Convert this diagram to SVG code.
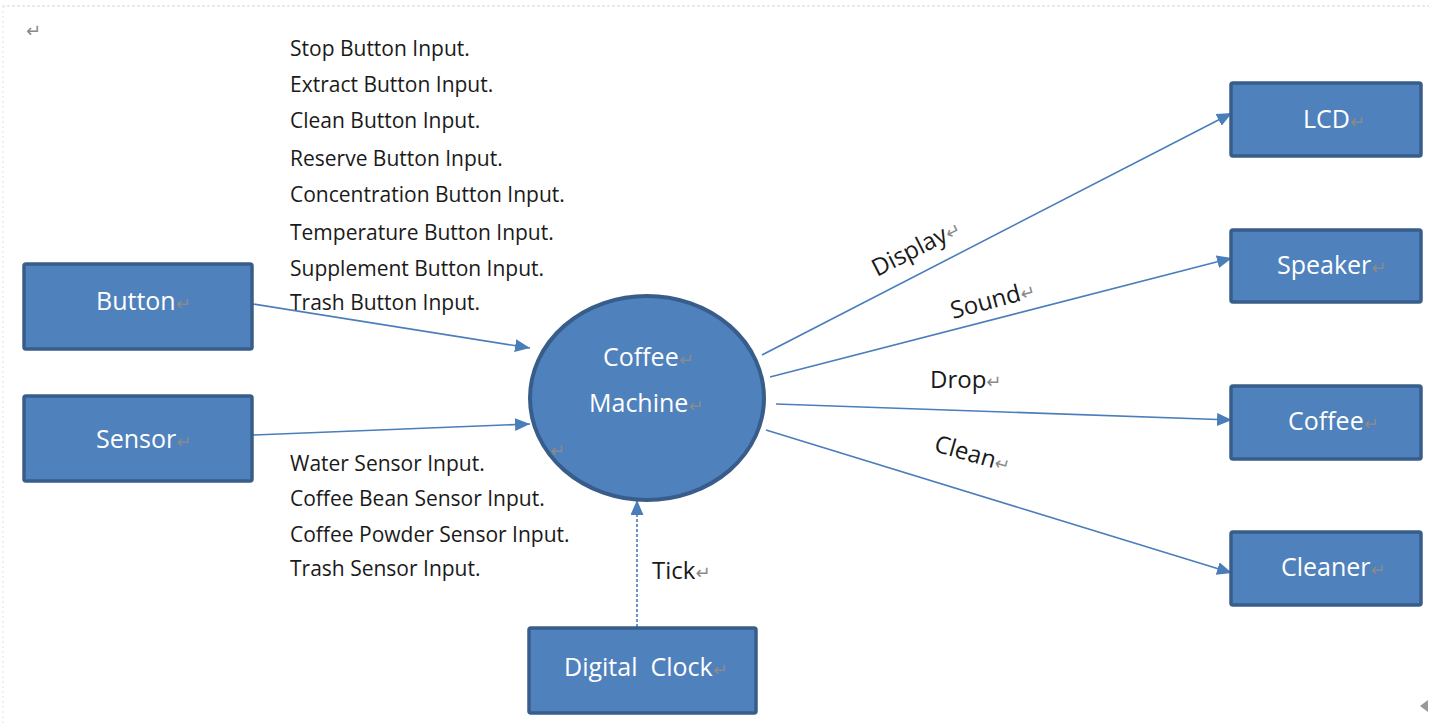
<svg xmlns="http://www.w3.org/2000/svg" width="1429" height="726" viewBox="0 0 1429 726">
<defs>
<style>
.box{fill:#4f81bd;stroke:#385d8a;stroke-width:3.5}
.lbl{font-family:"Open Sans","Noto Sans",sans-serif;font-size:25px;fill:#ffffff}
.txt{font-family:"Open Sans","Noto Sans",sans-serif;font-size:21px;fill:#1a1a1a}
.elbl{font-family:"Open Sans","Noto Sans",sans-serif;font-size:24px;fill:#1a1a1a}
.pm{font-family:"DejaVu Sans",sans-serif;font-size:18px;fill:#8a8a8a}
.edge{stroke:#4a7ebb;stroke-width:1.6;fill:none}
</style>
<marker id="arr" markerUnits="userSpaceOnUse" markerWidth="16" markerHeight="14" refX="15" refY="6.5" orient="auto">
<path d="M0,0 L15,6.5 L0,13 Z" fill="#4a7ebb"/>
</marker>
</defs>
<rect x="0" y="0" width="1429" height="726" fill="#ffffff"/>
<path d="M2,6 H1429" stroke="#e4e4e4" stroke-width="1.5" stroke-dasharray="3,2" fill="none"/>
<path d="M3,6 V726" stroke="#ececec" stroke-width="1.5" stroke-dasharray="2,3" fill="none"/>
<text class="pm" x="26" y="37">↵</text>

<g id="connectors">
<line class="edge" x1="253" y1="304" x2="530" y2="348" marker-end="url(#arr)"/>
<line class="edge" x1="253" y1="435" x2="530" y2="424" marker-end="url(#arr)"/>
<line class="edge" x1="637" y1="627" x2="637" y2="500" stroke-dasharray="3,2" marker-end="url(#arr)"/>
<line class="edge" x1="762" y1="355" x2="1232" y2="113" marker-end="url(#arr)"/>
<line class="edge" x1="770" y1="377" x2="1232" y2="258" marker-end="url(#arr)"/>
<line class="edge" x1="776" y1="404" x2="1232" y2="420" marker-end="url(#arr)"/>
<line class="edge" x1="766" y1="430" x2="1232" y2="573" marker-end="url(#arr)"/>
<text class="elbl" transform="translate(877,277) rotate(-27)">Display<tspan class="pm">↵</tspan></text>
<text class="elbl" transform="translate(953,319) rotate(-15)">Sound<tspan class="pm">↵</tspan></text>
<text class="elbl" x="930" y="388">Drop<tspan class="pm">↵</tspan></text>
<text class="elbl" transform="translate(933,451) rotate(16)">Clean<tspan class="pm">↵</tspan></text>
<text class="elbl" x="652" y="579">Tick<tspan class="pm">↵</tspan></text>
</g>

<g id="button-inputs">
<text class="txt" x="290" y="56">Stop Button Input.</text>
<text class="txt" x="290" y="92">Extract Button Input.</text>
<text class="txt" x="290" y="128">Clean Button Input.</text>
<text class="txt" x="290" y="166">Reserve Button Input.</text>
<text class="txt" x="290" y="202">Concentration Button Input.</text>
<text class="txt" x="290" y="240">Temperature Button Input.</text>
<text class="txt" x="290" y="276">Supplement Button Input.</text>
<text class="txt" x="290" y="310">Trash Button Input.</text>
</g>
<g id="sensor-inputs">
<text class="txt" x="290" y="471">Water Sensor Input.</text>
<text class="txt" x="290" y="506">Coffee Bean Sensor Input.</text>
<text class="txt" x="290" y="542">Coffee Powder Sensor Input.</text>
<text class="txt" x="290" y="576">Trash Sensor Input.</text>
</g>

<g id="node-button">
<rect class="box" x="24" y="264" width="228" height="85" rx="2"/>
<text class="lbl" x="96" y="310">Button<tspan class="pm">↵</tspan></text>
</g>
<g id="node-sensor">
<rect class="box" x="24" y="396" width="228" height="85" rx="2"/>
<text class="lbl" x="96" y="448">Sensor<tspan class="pm">↵</tspan></text>
</g>
<g id="node-coffee-machine">
<ellipse cx="647" cy="398" rx="117" ry="102" fill="#4f81bd" stroke="#385d8a" stroke-width="4"/>
<text class="lbl" x="603" y="366">Coffee<tspan class="pm">↵</tspan></text>
<text class="lbl" x="589" y="412">Machine<tspan class="pm">↵</tspan></text>
<text class="pm" x="550" y="457">↵</text>
</g>
<g id="node-digital-clock">
<rect class="box" x="529" y="628" width="227" height="85" rx="2"/>
<text class="lbl" x="564" y="676">Digital&#160; Clock<tspan class="pm">↵</tspan></text>
</g>
<g id="node-lcd">
<rect class="box" x="1231" y="83" width="190" height="73" rx="2"/>
<text class="lbl" x="1303" y="128">LCD<tspan class="pm">↵</tspan></text>
</g>
<g id="node-speaker">
<rect class="box" x="1231" y="230" width="190" height="72" rx="2"/>
<text class="lbl" x="1277" y="274">Speaker<tspan class="pm">↵</tspan></text>
</g>
<g id="node-coffee">
<rect class="box" x="1231" y="386" width="190" height="73" rx="2"/>
<text class="lbl" x="1288" y="430">Coffee<tspan class="pm">↵</tspan></text>
</g>
<g id="node-cleaner">
<rect class="box" x="1231" y="532" width="190" height="73" rx="2"/>
<text class="lbl" x="1281" y="576">Cleaner<tspan class="pm">↵</tspan></text>
</g>
<path d="M1428,700 L1420,706 L1428,712 Z" fill="#999999"/>
</svg>
